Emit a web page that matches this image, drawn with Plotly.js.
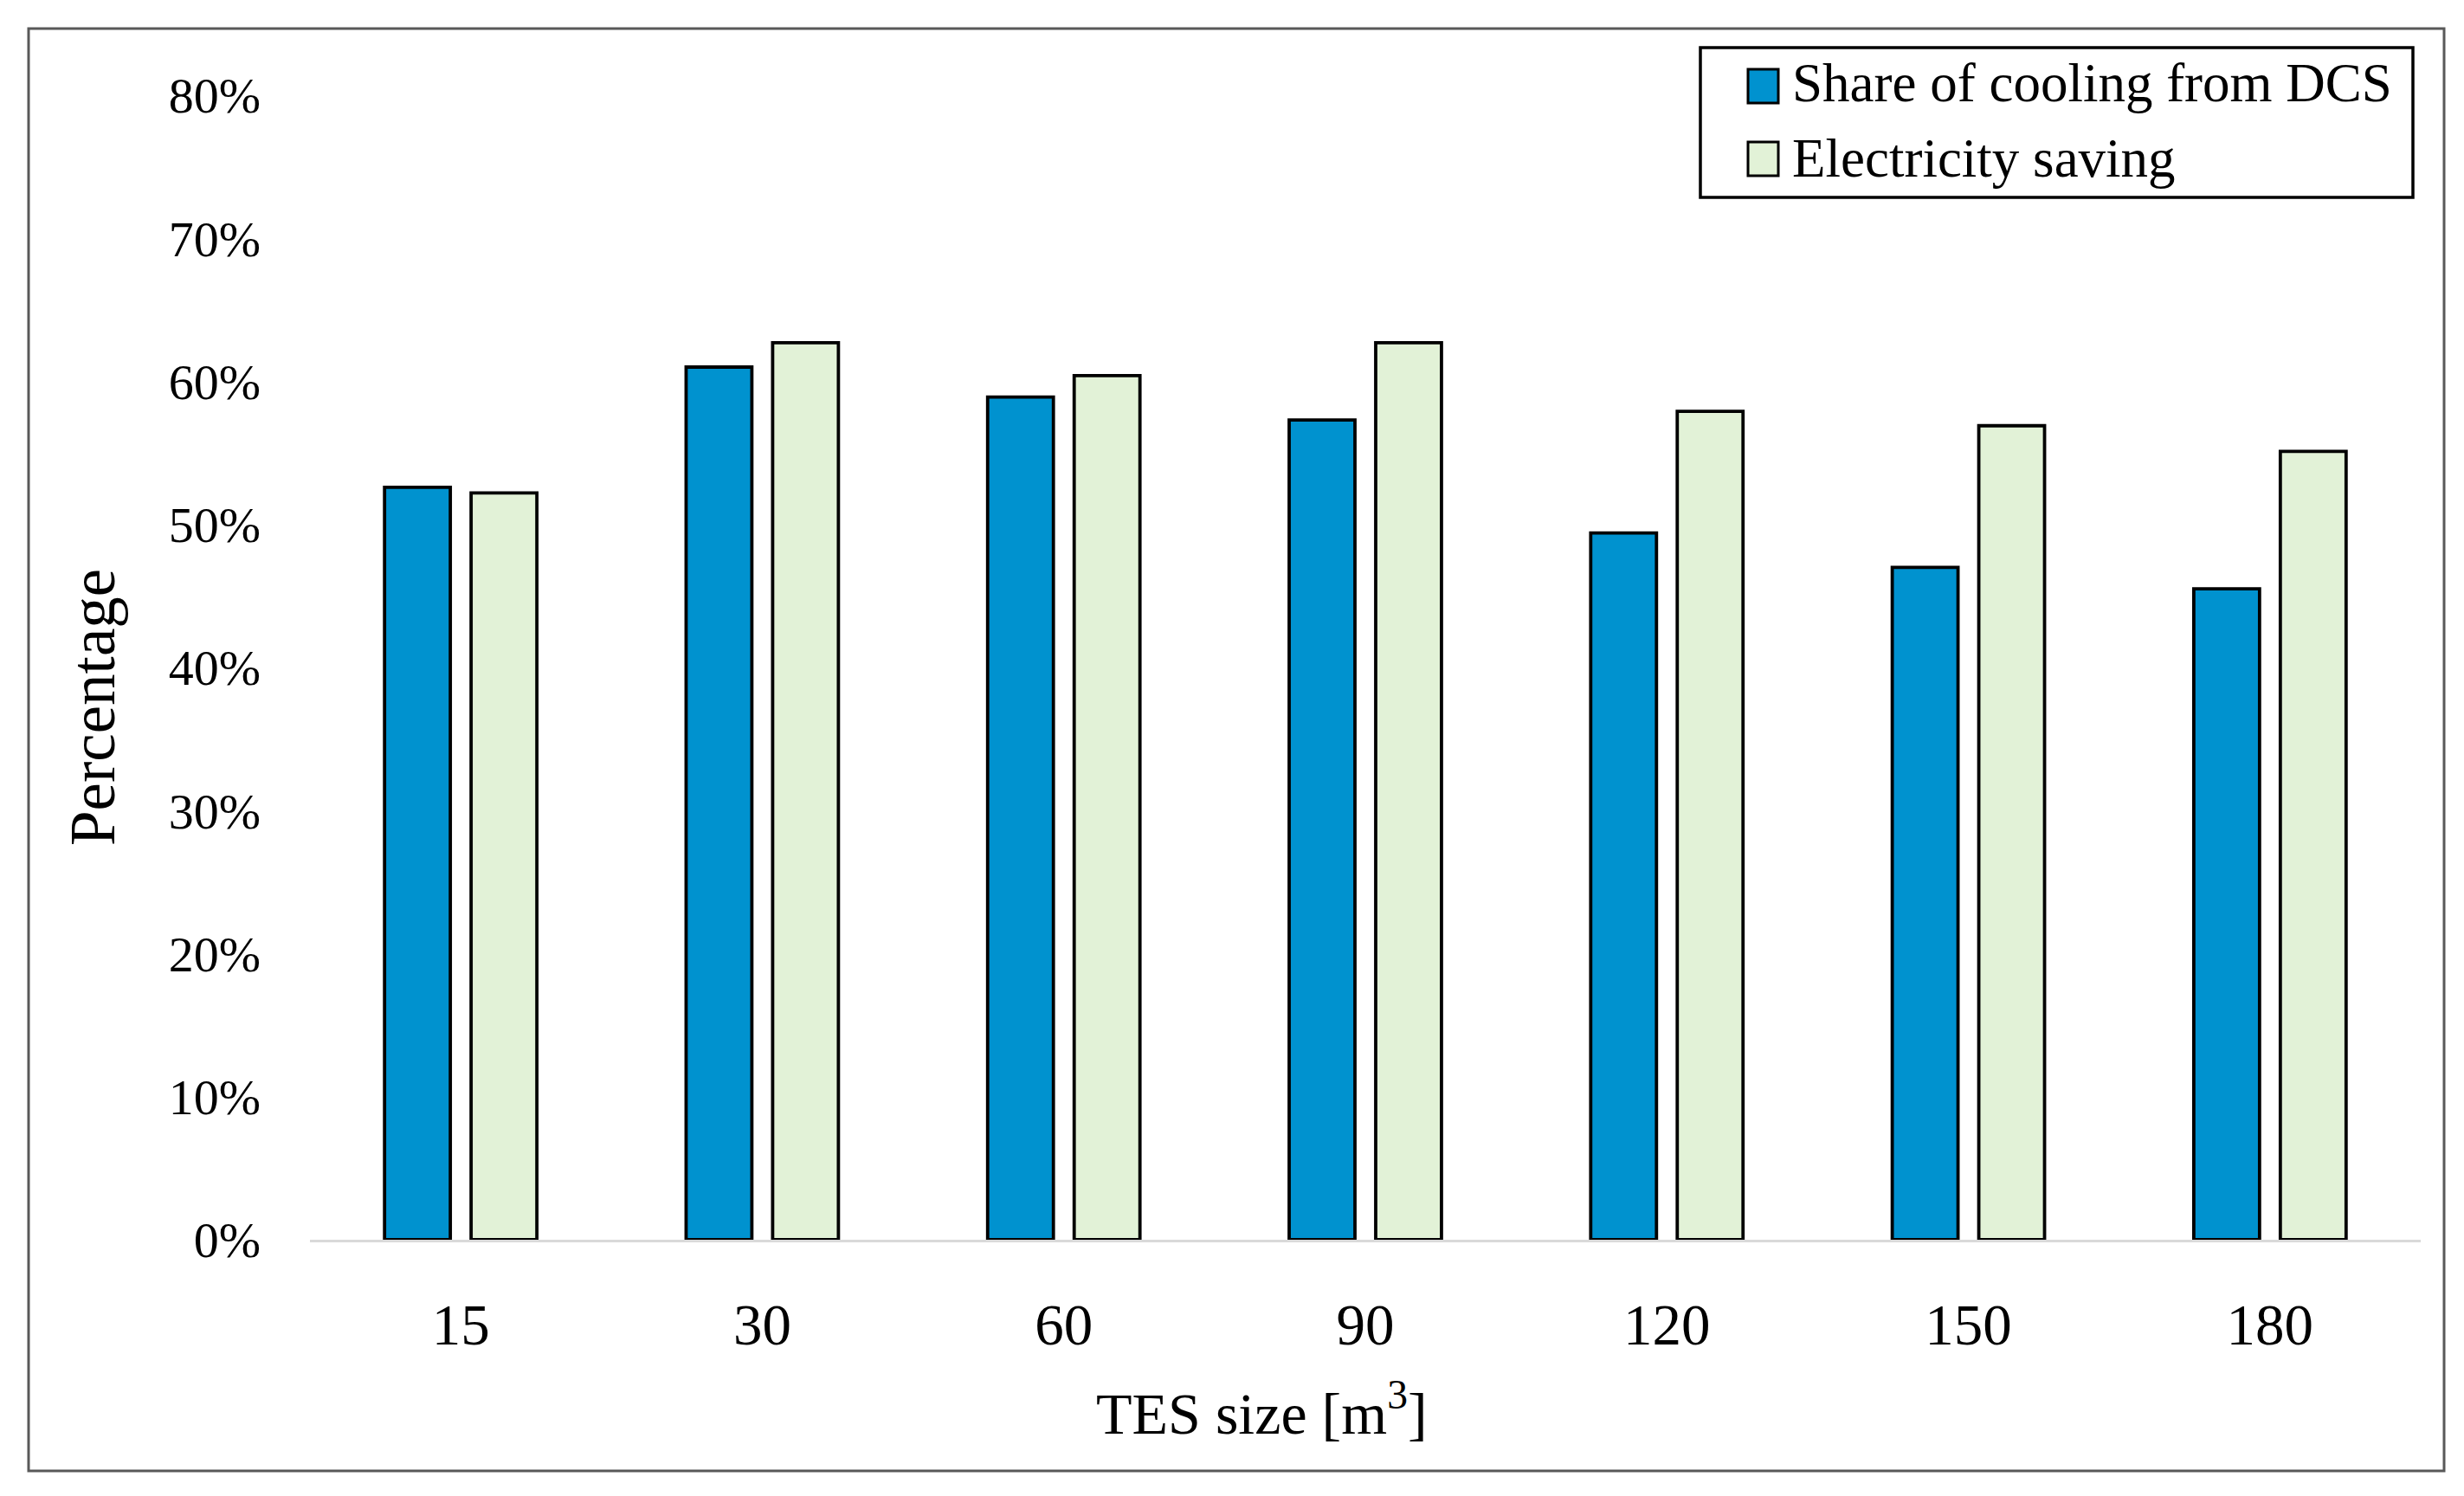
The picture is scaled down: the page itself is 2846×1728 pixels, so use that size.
<!DOCTYPE html>
<html>
<head>
<meta charset="utf-8">
<script src="https://cdn.plot.ly/plotly-3.0.1.min.js"></script>
<style>
  html, body { margin: 0; padding: 0; background: #ffffff; }
  #chart { width: 2846px; height: 1728px; }
</style>
</head>
<body>
<div id="chart"></div>
<script>
// ---- data ----
const categories = ["15", "30", "60", "90", "120", "150", "180"];
const shareCoolingDCS = [52.6, 61.0, 58.9, 57.3, 49.4, 47.0, 45.5];
const electricitySaving = [52.2, 62.7, 60.4, 62.7, 57.9, 56.9, 55.1];
const seriesNames = ["Share of cooling from DCS", "Electricity saving"];
const yTickValues = [0, 10, 20, 30, 40, 50, 60, 70, 80];
const yTickLabels = ["0%", "10%", "20%", "30%", "40%", "50%", "60%", "70%", "80%"];
const xTitle = "TES size [m<sup>3</sup>]";
const yTitle = "Percentage";

// ---- styling ----
const FONT = '"Palatino Linotype", "Book Antiqua", Palatino, "Liberation Serif", serif';
const BLUE = "#0092CF";
const GREEN = "#E2F2D7";
const W = 2846, Hh = 1728;
const L = 358, R = 2796, T = 110, B = 1432;
const PW = R - L, PH = B - T;
const px = x => (x - L) / PW;
const py = y => (B - y) / PH;

const traces = [
  {
    type: "bar", name: seriesNames[0], x: categories, y: shareCoolingDCS,
    marker: { color: BLUE, line: { color: "#000000", width: 3.8 } },
    showlegend: false, hoverinfo: "skip"
  },
  {
    type: "bar", name: seriesNames[1], x: categories, y: electricitySaving,
    marker: { color: GREEN, line: { color: "#000000", width: 3.8 } },
    showlegend: false, hoverinfo: "skip"
  }
];

const shapes = [
  // outer chart border
  { type: "rect", xref: "paper", yref: "paper",
    x0: px(33), x1: px(2823), y0: py(1699), y1: py(33),
    line: { color: "#595959", width: 3 }, layer: "below" },
  // legend box
  { type: "rect", xref: "paper", yref: "paper",
    x0: px(1964), x1: px(2787), y0: py(228), y1: py(55),
    line: { color: "#000000", width: 3.5 }, fillcolor: "#ffffff" },
  // legend symbols
  { type: "rect", xref: "paper", yref: "paper",
    x0: px(2019), x1: px(2054), y0: py(119), y1: py(80),
    line: { color: "#000000", width: 3 }, fillcolor: BLUE },
  { type: "rect", xref: "paper", yref: "paper",
    x0: px(2019), x1: px(2054), y0: py(203), y1: py(164),
    line: { color: "#000000", width: 3 }, fillcolor: GREEN }
];

const annotations = [
  { xref: "paper", yref: "paper", x: px(2068), y: py(96), xanchor: "left", yanchor: "middle",
    text: seriesNames[0], showarrow: false, font: { family: FONT, size: 63, color: "#000" } },
  { xref: "paper", yref: "paper", x: px(2068), y: py(183), xanchor: "left", yanchor: "middle",
    text: seriesNames[1], showarrow: false, font: { family: FONT, size: 63, color: "#000" } },
  { xref: "paper", yref: "paper", x: px(1457), y: py(1628), xanchor: "center", yanchor: "middle",
    text: xTitle, showarrow: false, font: { family: FONT, size: 68, color: "#000" } },
  { xref: "paper", yref: "paper", x: px(107), y: py(817), xanchor: "center", yanchor: "middle",
    text: yTitle, textangle: -90, showarrow: false, font: { family: FONT, size: 73, color: "#000" } }
];

const layout = {
  width: W, height: Hh,
  margin: { l: L, r: W - R, t: T, b: Hh - B, pad: 0 },
  paper_bgcolor: "#ffffff", plot_bgcolor: "#ffffff",
  font: { family: FONT, color: "#000000" },
  barmode: "group", bargap: 0.426, bargroupgap: 0.24,
  showlegend: false,
  xaxis: {
    type: "category", showgrid: false, zeroline: false,
    showline: true, linecolor: "#D9D9D9", linewidth: 3, layer: "below traces",
    ticks: "", ticklabelstandoff: 38,
    tickfont: { family: FONT, size: 67, color: "#000" }
  },
  yaxis: {
    range: [0, 80], showgrid: false, zeroline: false, showline: false,
    tickmode: "array", tickvals: yTickValues, ticktext: yTickLabels,
    ticks: "", ticklabelstandoff: 56,
    tickfont: { family: FONT, size: 58, color: "#000" }
  },
  shapes: shapes,
  annotations: annotations
};

Plotly.newPlot("chart", traces, layout, { staticPlot: true, displayModeBar: false });
</script>
</body>
</html>
